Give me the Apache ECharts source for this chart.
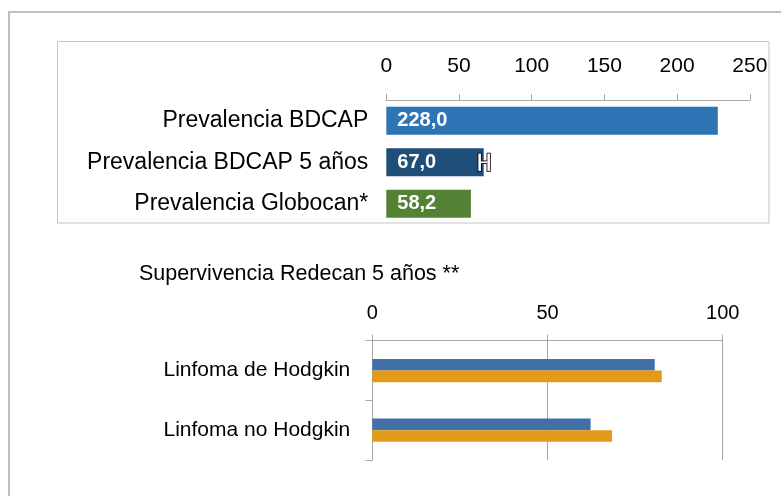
<!DOCTYPE html>
<html>
<head>
<meta charset="utf-8">
<script src="https://cdn.jsdelivr.net/npm/echarts@6/dist/echarts.min.js"></script>
<style>
html,body{margin:0;padding:0;background:#fff;}
#c{width:781px;height:496px;}
</style>
</head>
<body>
<div id="c"></div>
<script>
// ---- Data ----
var prevCategories = ['Prevalencia BDCAP', 'Prevalencia BDCAP 5 años', 'Prevalencia Globocan*'];
var prevValues = [228.0, 67.0, 58.2];
var prevColors = ['#2e75b6', '#1f4e79', '#548235'];
var prevErrorLow = [null, 64.2, null];
var prevErrorHigh = [null, 70.4, null];
var prevTicks = [0, 50, 100, 150, 200, 250];

var survTitle = 'Supervivencia Redecan 5 años **';
var survCategories = ['Linfoma de Hodgkin', 'Linfoma no Hodgkin'];
var survSeriesA = [80.6, 62.3];
var survSeriesB = [82.6, 68.4];
var survTicks = [0, 50, 100];

var FONT = "'Liberation Sans', Arial, sans-serif";
var chart = echarts.init(document.getElementById('c'), null, {renderer: 'canvas'});

var errData = [];
prevErrorLow.forEach(function (lo, i) {
  if (lo != null) errData.push([lo, prevErrorHigh[i], i]);
});

function renderErr(params, api) {
  var lo = api.value(0), hi = api.value(1), idx = api.value(2);
  var p1 = api.coord([lo, idx]);
  var p2 = api.coord([hi, idx]);
  var yc = p1[1];
  var hw = 1.3, hh = 8.7;
  var shapes = [
    {x: p1[0] - hw, y: yc - hh, width: hw * 2, height: hh * 2},
    {x: p2[0] - hw, y: yc - hh, width: hw * 2, height: hh * 2},
    {x: p1[0] + hw, y: yc - 0.9, width: p2[0] - p1[0] - hw * 2, height: 1.8}
  ];
  var children = [];
  shapes.forEach(function (s) {
    children.push({type: 'rect', shape: s, style: {fill: '#000', stroke: '#000', lineWidth: 1.6}});
  });
  shapes.forEach(function (s) {
    children.push({type: 'rect', shape: s, style: {fill: '#fff'}});
  });
  return {type: 'group', children: children};
}

var option = {
  animation: false,
  backgroundColor: '#fff',
  title: {
    text: survTitle,
    left: 134,
    top: 258,
    textStyle: {fontFamily: FONT, fontSize: 21.5, fontWeight: 'normal', color: '#000'}
  },
  graphic: [
    {type: 'rect', z: -10, shape: {x: 9, y: 12, width: 800, height: 520},
     style: {fill: 'none', stroke: '#bfbfbf', lineWidth: 2}},
    {type: 'rect', z: -10, shape: {x: 57.5, y: 41.5, width: 711.5, height: 181.5},
     style: {fill: 'none', stroke: '#c3c3c3', lineWidth: 1}}
  ],
  grid: [
    {left: 386.3, right: 31.2, top: 100, height: 124.5},
    {left: 372.3, right: 58.3, top: 340.7, height: 119.3}
  ],
  xAxis: [
    {
      gridIndex: 0, type: 'value', position: 'top', min: 0, max: 250, interval: 50,
      axisLine: {show: true, lineStyle: {color: '#a6a6a6', width: 1}},
      axisTick: {show: true, length: 6, lineStyle: {color: '#a6a6a6'}},
      splitLine: {show: false},
      axisLabel: {margin: 23, fontFamily: FONT, fontSize: 21, color: '#000',
        formatter: function (v) { return prevTicks.indexOf(v) >= 0 ? String(v) : ''; }}
    },
    {
      gridIndex: 1, type: 'value', position: 'top', min: 0, max: 100, interval: 50,
      axisLine: {show: true, lineStyle: {color: '#a6a6a6', width: 1}},
      axisTick: {show: true, length: 6, lineStyle: {color: '#a6a6a6'}},
      splitLine: {show: true, lineStyle: {color: '#a6a6a6', width: 1}},
      axisLabel: {margin: 17, fontFamily: FONT, fontSize: 20, color: '#000',
        formatter: function (v) { return survTicks.indexOf(v) >= 0 ? String(v) : ''; }}
    }
  ],
  yAxis: [
    {
      gridIndex: 0, type: 'category', data: prevCategories, inverse: true,
      axisLine: {show: false}, axisTick: {show: false},
      axisLabel: {margin: 18, fontFamily: FONT, fontSize: 23, color: '#000'}
    },
    {
      gridIndex: 1, type: 'category', data: survCategories, inverse: true,
      axisLine: {show: true, lineStyle: {color: '#a6a6a6', width: 1}},
      axisTick: {show: true, length: 7, lineStyle: {color: '#a6a6a6'}},
      axisLabel: {margin: 22, fontFamily: FONT, fontSize: 21, color: '#000'}
    }
  ],
  series: [
    {
      type: 'bar', xAxisIndex: 0, yAxisIndex: 0, barCategoryGap: '32%',
      data: prevValues.map(function (v, i) { return {value: v, itemStyle: {color: prevColors[i]}}; }),
      label: {
        show: true, position: 'insideLeft', distance: 11,
        fontFamily: FONT, fontSize: 20, fontWeight: 'bold', color: '#fff',
        formatter: function (p) { return p.value.toFixed(1).replace('.', ','); }
      }
    },
    {
      type: 'custom', xAxisIndex: 0, yAxisIndex: 0, z: 5,
      data: errData, renderItem: renderErr,
      encode: {x: [0, 1], y: 2}
    },
    {
      name: 'Serie A', type: 'bar', xAxisIndex: 1, yAxisIndex: 1,
      barGap: '0%', barCategoryGap: '61%',
      itemStyle: {color: '#416fa9'}, data: survSeriesA
    },
    {
      name: 'Serie B', type: 'bar', xAxisIndex: 1, yAxisIndex: 1,
      barGap: '0%', barCategoryGap: '61%',
      itemStyle: {color: '#e49a19'}, data: survSeriesB
    }
  ]
};
chart.setOption(option);
</script>
</body>
</html>
